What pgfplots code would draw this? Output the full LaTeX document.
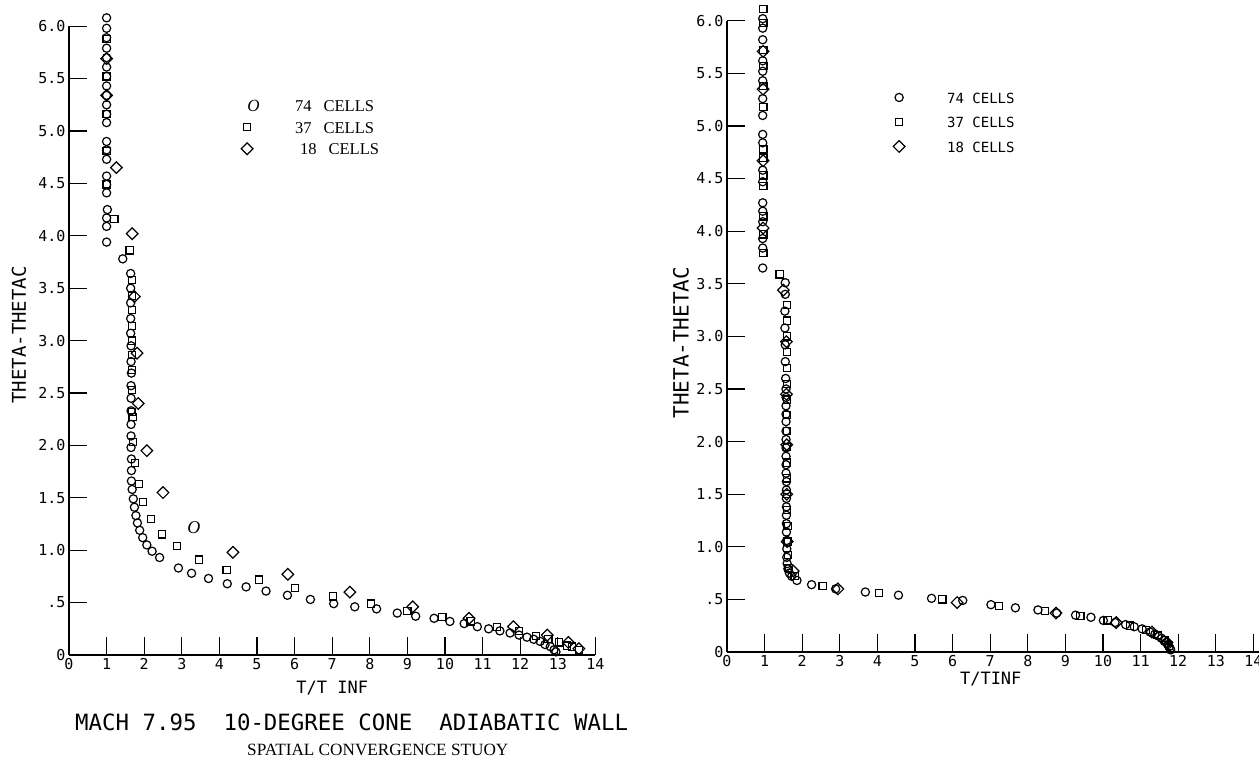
\documentclass[border=0pt]{standalone}
\usepackage{fontspec}
\setmainfont{DejaVu Sans Mono}
\newfontfamily\cour{Liberation Mono}
\newfontfamily\tms{Liberation Serif}
\usepackage{pgfplots}
\pgfplotsset{compat=1.18}
\pgfplotsset{
 panel/.style={
  axis lines=left,
  axis line style={-, line width=1.2pt},
  xmin=0, ymin=0, ymax=6,
  clip=false,
  tick align=inside,
  major tick length=18pt,
  every tick/.style={black, line width=1.2pt},
  xtick={0,1,2,3,4,5,6,7,8,9,10,11,12,13,14},
  xticklabels={0,1,2,3,4,5,6,7,8,9,10,11,12,13,14},
  ytick={0,0.5,1,1.5,2,2.5,3,3.5,4,4.5,5,5.5,6},
  yticklabels={0,.5,1.0,1.5,2.0,2.5,3.0,3.5,4.0,4.5,5.0,5.5,6.0},
  tick label style={font=\fontsize{15}{15}\selectfont, black},
  /pgf/number format/assume math mode=true,
  legend cell align=left,
  legend image code/.code={\path[draw=none] (0pt,0pt) -- (62pt,0pt); \draw[##1] plot coordinates {(14pt,0pt)};},
 },
 c74/.style={only marks, mark=o, mark size=4.1pt, mark options={line width=1.2pt, black}},
 c37/.style={only marks, mark=square, mark size=3.6pt, mark options={line width=1.2pt, black}},
 c18/.style={only marks, mark=square, mark size=4.1pt, mark options={line width=1.2pt, black, rotate=45}},
}
\begin{document}
\begin{tikzpicture}
% ---------------- LEFT PANEL ----------------
\begin{axis}[panel, at={(69pt,108pt)}, anchor=south west, x=37.6pt, y=104.8pt, xmax=14,
  xlabel={T/T INF},
  xlabel style={at={(axis description cs:0.5,-0.053)}, anchor=center, font=\fontsize{17}{17}\selectfont},
  ylabel={THETA-THETAC},
  ylabel style={at={(axis description cs:-0.095,0.509)}, anchor=center, font=\fontsize{19}{19}\selectfont},
  legend style={at={(axis cs:4.36,5.30)}, anchor=north west, draw=none, fill=none, inner sep=0pt,
    row sep=9.5pt, nodes={inner sep=0pt, text height=12pt, text depth=0pt, font=\tms\fontsize{16.5}{16.5}\selectfont}},
]
\addplot[c74, legend image code/.code={\path[draw=none] (0pt,0pt) -- (62pt,0pt); \node[draw=none, font=\tms\itshape\fontsize{17}{17}\selectfont, inner sep=0pt] at (14pt,0pt) {O};}] coordinates {
(1.0,6.08)(1.0,5.98)(1.0,5.89)(1.0,5.79)(1.0,5.70)(1.0,5.61)(1.0,5.52)(1.0,5.43)(1.0,5.34)(1.0,5.25)(1.0,5.16)(1.0,5.08)
(1.0,4.90)(1.0,4.82)(1.0,4.73)(1.0,4.57)(1.0,4.49)(1.0,4.41)(1.02,4.25)(1.0,4.17)(1.0,4.09)(1.0,3.94)
(1.43,3.78)
(1.64,3.64)(1.64,3.50)(1.64,3.36)(1.64,3.21)(1.64,3.07)(1.65,2.95)(1.65,2.80)(1.66,2.69)
(1.65,2.57)(1.65,2.45)(1.65,2.33)(1.65,2.20)(1.65,2.09)(1.65,1.98)(1.66,1.87)(1.66,1.76)(1.66,1.66)(1.68,1.58)(1.71,1.49)(1.74,1.41)(1.78,1.33)(1.82,1.26)(1.88,1.19)(1.96,1.12)(2.07,1.05)(2.21,0.99)(2.41,0.93)
(2.91,0.83)(3.26,0.78)(3.71,0.73)(4.21,0.68)(4.71,0.65)(5.24,0.61)(5.81,0.57)(6.42,0.53)(7.04,0.49)(7.60,0.46)(8.18,0.44)(8.73,0.40)(9.22,0.37)(9.71,0.35)(10.13,0.32)(10.51,0.30)(10.86,0.27)(11.16,0.25)(11.46,0.23)(11.73,0.21)(11.97,0.19)(12.18,0.17)(12.36,0.15)(12.53,0.13)(12.66,0.10)(12.80,0.08)(12.90,0.05)(12.95,0.03)
};
\addlegendentry{74\hspace{12pt}CELLS}
\addplot[c37] coordinates {
(1.0,5.88)(1.0,5.52)(1.0,5.16)(1.0,4.81)(1.0,4.49)(1.21,4.16)(1.61,3.86)
(1.67,3.58)(1.67,3.43)(1.68,3.29)(1.68,3.14)(1.68,3.00)(1.68,2.86)(1.68,2.72)
(1.68,2.53)(1.68,2.32)(1.69,2.27)(1.70,2.03)(1.76,1.83)(1.86,1.63)(1.97,1.46)(2.18,1.30)(2.47,1.15)(2.87,1.04)(3.46,0.91)(4.19,0.81)(5.05,0.72)(6.01,0.64)(7.02,0.56)(8.03,0.49)(9.00,0.42)(9.93,0.36)(10.68,0.32)(11.38,0.27)(11.97,0.23)(12.42,0.18)(12.75,0.15)(13.03,0.12)(13.25,0.09)(13.38,0.08)(13.56,0.05)
};
\addlegendentry{37\hspace{12pt}CELLS}
\addplot[c18] coordinates {
(1.0,5.69)(1.0,5.34)(1.26,4.65)(1.68,4.02)(1.74,3.42)(1.81,2.88)(1.84,2.40)(2.07,1.95)(2.50,1.55)(4.36,0.98)(5.82,0.77)(7.47,0.60)(9.14,0.46)(10.64,0.35)(11.82,0.27)(12.72,0.19)(13.28,0.12)(13.56,0.06)
};
\addlegendentry{\hspace{5pt}18\hspace{12pt}CELLS}
\node[font=\tms\itshape\fontsize{18}{18}\selectfont] at (axis cs:3.32,1.22) {O};
\end{axis}
% ---------------- RIGHT PANEL ----------------
\begin{axis}[panel, at={(727pt,111pt)}, anchor=south west, x=37.6pt, y=105.2pt, xmax=14.2,
  xlabel={T/TINF},
  xlabel style={at={(axis description cs:0.494,-0.043)}, anchor=center, font=\fontsize{17}{17}\selectfont},
  ylabel={THETA-THETAC},
  ylabel style={at={(axis description cs:-0.086,0.49)}, anchor=center, font=\fontsize{21}{21}\selectfont},
  legend style={at={(axis cs:4.2,5.33)}, anchor=north west, draw=none, fill=none, inner sep=0pt,
    row sep=12.5pt, nodes={inner sep=0pt, text height=12pt, text depth=0pt, font=\fontsize{14}{14}\selectfont}},
]
\addplot[c74] coordinates {
(0.95,6.02)(0.95,5.93)(0.95,5.82)(0.95,5.62)(0.95,5.52)(0.95,5.43)(0.95,5.26)(0.95,5.10)(0.95,4.92)(0.95,4.84)(0.95,4.58)(0.95,4.47)(0.95,4.27)(0.95,4.19)(0.95,4.09)(0.95,3.93)(0.95,3.84)(0.95,3.65)
(1.55,3.51)(1.55,3.40)(1.54,3.24)(1.54,3.08)(1.55,2.92)(1.55,2.76)(1.56,2.60)
(1.57,2.50)(1.57,2.42)(1.57,2.34)(1.57,2.26)(1.57,2.19)(1.57,2.10)(1.57,2.02)(1.57,1.94)(1.57,1.86)(1.57,1.78)(1.57,1.70)(1.58,1.62)(1.58,1.54)(1.58,1.46)(1.58,1.38)(1.58,1.30)(1.58,1.22)(1.58,1.14)(1.59,1.06)(1.59,0.98)(1.59,0.90)(1.60,0.84)
(1.62,0.79)(1.66,0.75)(1.72,0.72)(1.86,0.68)(2.25,0.64)(2.89,0.60)(3.68,0.57)(4.56,0.54)(5.44,0.51)(6.27,0.49)(7.02,0.45)(7.67,0.42)(8.27,0.40)(8.77,0.37)(9.27,0.35)(9.68,0.33)(10.01,0.30)(10.32,0.28)(10.60,0.26)(10.83,0.24)(11.04,0.22)(11.25,0.19)(11.38,0.17)(11.48,0.15)(11.56,0.13)(11.62,0.11)(11.68,0.09)(11.72,0.07)(11.76,0.05)(11.79,0.03)(11.80,0.02)
};
\addlegendentry{74 CELLS}
\addplot[c37] coordinates {
(0.97,6.11)(0.97,5.98)(0.97,5.72)(0.97,5.57)(0.97,5.38)(0.97,5.18)(0.97,4.78)(0.97,4.70)(0.97,4.53)(0.97,4.43)(0.97,4.14)(0.97,3.97)(0.97,3.79)
(1.40,3.59)
(1.60,3.30)(1.60,3.15)(1.60,3.00)(1.60,2.85)(1.60,2.70)(1.60,2.55)(1.60,2.40)(1.60,2.25)(1.60,2.10)(1.60,1.95)(1.60,1.80)(1.60,1.65)(1.60,1.50)(1.60,1.35)(1.61,1.20)(1.61,1.05)(1.62,0.92)(1.64,0.80)
(1.80,0.72)(2.54,0.63)(4.04,0.56)(5.73,0.50)(7.24,0.44)(8.45,0.39)(9.40,0.34)(10.12,0.30)(10.72,0.25)(11.15,0.21)(11.45,0.16)(11.65,0.11)(11.76,0.06)
};
\addlegendentry{37 CELLS}
\addplot[c18] coordinates {
(0.96,5.71)(0.96,5.35)(0.96,4.67)(0.96,4.03)(1.50,3.44)(1.58,2.95)(1.58,2.45)(1.59,1.97)(1.59,1.50)(1.60,1.05)(1.76,0.77)(2.95,0.60)(6.12,0.47)(8.75,0.37)(10.35,0.28)(11.30,0.19)(11.70,0.09)
};
\addlegendentry{18 CELLS}
\end{axis}
\node[anchor=west, font=\fontsize{22.4}{22.4}\selectfont, inner sep=0pt] at (75pt,41pt) {MACH 7.95~~10-DEGREE CONE~~ADIABATIC WALL};
\node[anchor=west, font=\tms\fontsize{17.2}{17.2}\selectfont, inner sep=0pt] at (247pt,13pt) {SPATIAL CONVERGENCE STUOY};
\pgfresetboundingbox
\path[use as bounding box] (0pt,0pt) rectangle (1259pt,763pt);
\end{tikzpicture}
\end{document}
